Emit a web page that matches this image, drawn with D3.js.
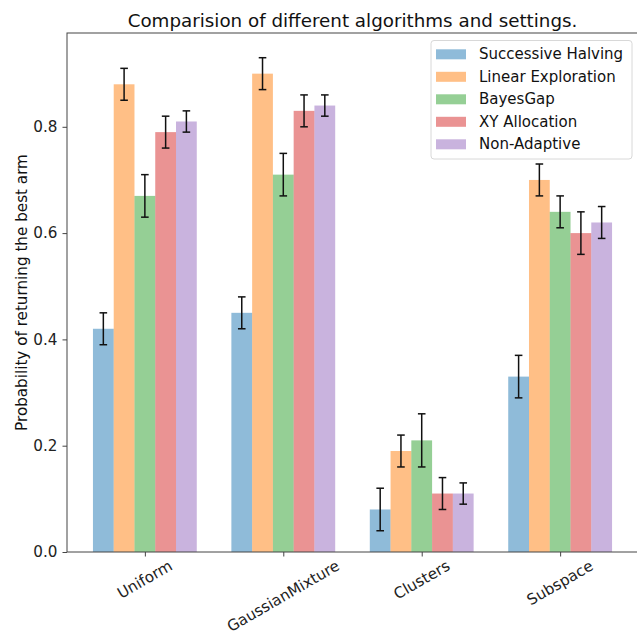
<!DOCTYPE html>
<html>
<head>
<meta charset="utf-8">
<script src="https://cdn.jsdelivr.net/npm/d3@7"></script>
<style>
  body { margin: 0; background: #fff; }
  svg { display: block; font-family: "DejaVu Sans", sans-serif; }
</style>
</head>
<body>
<svg id="chart" width="637" height="631"></svg>
<script>
const categories = ["Uniform", "GaussianMixture", "Clusters", "Subspace"];
const seriesNames = ["Successive Halving", "Linear Exploration", "BayesGap", "XY Allocation", "Non-Adaptive"];
const seriesColors = ["#1f77b4", "#ff7f0e", "#2ca02c", "#d62728", "#9467bd"];
const successiveHalving = [0.42, 0.45, 0.08, 0.33];
const linearExploration = [0.88, 0.90, 0.19, 0.70];
const bayesGap          = [0.67, 0.71, 0.21, 0.64];
const xyAllocation      = [0.79, 0.83, 0.11, 0.60];
const nonAdaptive       = [0.81, 0.84, 0.11, 0.62];
const errSuccessiveHalving = [0.03, 0.03, 0.04, 0.04];
const errLinearExploration = [0.03, 0.03, 0.03, 0.03];
const errBayesGap          = [0.04, 0.04, 0.05, 0.03];
const errXyAllocation      = [0.03, 0.03, 0.03, 0.04];
const errNonAdaptive       = [0.02, 0.02, 0.02, 0.03];
const yTicks = [0.0, 0.2, 0.4, 0.6, 0.8];
const titleText = "Comparision of different algorithms and settings.";
const yLabelText = "Probability of returning the best arm";

const values = [successiveHalving, linearExploration, bayesGap, xyAllocation, nonAdaptive];
const errors = [errSuccessiveHalving, errLinearExploration, errBayesGap, errXyAllocation, errNonAdaptive];

const svg = d3.select("#chart");
const L = 67, R = 638, T = 33, B = 552;
const barW = 0.15;
const nS = seriesNames.length;
const FS = 15.2;

const x = d3.scaleLinear().domain([-0.5625, 3.5625]).range([L, R]);
const y = d3.scaleLinear().domain([0, 0.9765]).range([B, T]);
const wPx = x(barW) - x(0);

// bars
const data = [];
values.forEach((vals, s) => vals.forEach((v, c) => data.push({s, c, v, e: errors[s][c]})));
const cx = d => x(d.c + (d.s - (nS - 1) / 2) * barW);

svg.append("g").selectAll("rect").data(data).join("rect")
  .attr("x", d => cx(d) - wPx / 2)
  .attr("width", wPx)
  .attr("y", d => y(d.v))
  .attr("height", d => y(0) - y(d.v))
  .attr("fill", d => seriesColors[d.s])
  .attr("fill-opacity", 0.5);

// error bars
const eg = svg.append("g").attr("stroke", "#111").attr("stroke-width", 1.5);
data.forEach(d => {
  const xc = cx(d);
  eg.append("line").attr("x1", xc).attr("x2", xc).attr("y1", y(d.v - d.e)).attr("y2", y(d.v + d.e));
  eg.append("line").attr("x1", xc - 3.8).attr("x2", xc + 3.8).attr("y1", y(d.v - d.e)).attr("y2", y(d.v - d.e));
  eg.append("line").attr("x1", xc - 3.8).attr("x2", xc + 3.8).attr("y1", y(d.v + d.e)).attr("y2", y(d.v + d.e));
});

// spines
const sp = svg.append("g").attr("stroke", "#444").attr("stroke-width", 1).attr("fill", "none");
sp.append("rect").attr("x", L).attr("y", T).attr("width", R - L).attr("height", B - T);

// y axis
const yAxis = d3.axisLeft(y).tickValues(yTicks).tickFormat(d3.format(".1f")).tickSize(4.5).tickPadding(5);
const ya = svg.append("g").attr("transform", `translate(${L},0)`).call(yAxis);
ya.select(".domain").remove();
ya.selectAll("line").attr("stroke", "#444");
ya.selectAll("text").attr("font-size", FS).attr("fill", "#222").attr("font-family", "DejaVu Sans");

// x axis
const xAxis = d3.axisBottom(x).tickValues(d3.range(categories.length)).tickFormat(() => "").tickSize(4.5);
const xa = svg.append("g").attr("transform", `translate(0,${B})`).call(xAxis);
xa.select(".domain").remove();
xa.selectAll("line").attr("stroke", "#444");

// rotated x labels
const xl = svg.append("g");
categories.forEach((c, i) => {
  const t = xl.append("text").text(c).attr("font-size", FS).attr("fill", "#222")
    .attr("text-anchor", "middle").attr("dominant-baseline", "central");
  const w = t.node().getComputedTextLength();
  const h = FS * 1.0;
  const a = Math.PI / 6;
  const halfH = (w * Math.sin(a) + h * Math.cos(a)) / 2;
  const px = x(i), py = B + 6 + halfH;
  t.attr("transform", `translate(${px},${py}) rotate(-30)`);
});

// title
svg.append("text").attr("x", (L + R) / 2).attr("y", 27).attr("text-anchor", "middle")
  .attr("font-size", 18.3).attr("fill", "#111").text(titleText);

// y label
svg.append("text").attr("transform", `translate(27,${(T + B) / 2}) rotate(-90)`)
  .attr("text-anchor", "middle").attr("font-size", FS).attr("fill", "#111").text(yLabelText);

// legend
const lg = svg.append("g");
lg.append("rect").attr("x", 431).attr("y", 40.5).attr("width", 201).attr("height", 118.5)
  .attr("rx", 3).attr("fill", "#fff").attr("fill-opacity", 0.8).attr("stroke", "#d8d8d8");
seriesNames.forEach((n, i) => {
  const yy = 54.3 + i * 22.5;
  lg.append("rect").attr("x", 436).attr("y", yy - 5).attr("width", 30).attr("height", 10)
    .attr("fill", seriesColors[i]).attr("fill-opacity", 0.5);
  lg.append("text").attr("x", 479).attr("y", yy).attr("dominant-baseline", "central")
    .attr("font-size", 15).attr("fill", "#111").text(n);
});
</script>
</body>
</html>
